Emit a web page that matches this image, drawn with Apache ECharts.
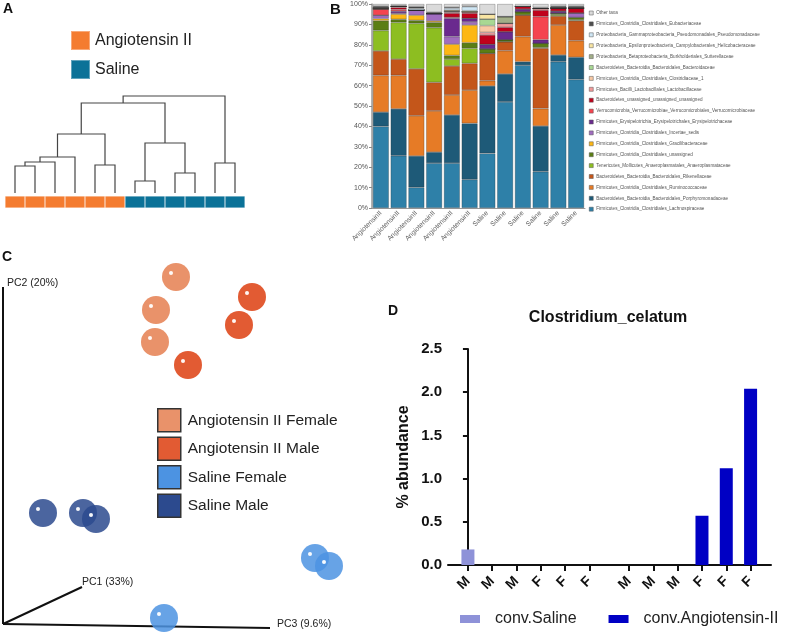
<!DOCTYPE html>
<html><head><meta charset="utf-8">
<script src="https://cdn.jsdelivr.net/npm/echarts@6/dist/echarts.min.js"></script>
<style>html,body{margin:0;padding:0;background:#fff}#c{width:800px;height:633px}</style>
</head><body><div id="c"></div>
<script>
// ===== Panel A: hierarchical clustering =====
const leafGroups = ['Angiotensin II','Angiotensin II','Angiotensin II','Angiotensin II','Angiotensin II','Angiotensin II','Saline','Saline','Saline','Saline','Saline','Saline'];
// [childA, childB, height]; leaves 0-11, merged nodes numbered 12+
const dendroMerges = [[0,1,27],[12,2,31],[13,3,36],[4,5,28],[14,15,59],[6,7,12],[8,9,20],[17,18,50],[16,19,90],[10,11,30],[20,21,97]];
const groupColors = {'Angiotensin II':'#F47C30','Saline':'#0B7298'};

// ===== Panel B: relative abundance (stack order bottom -> top) =====
const taxa = [
 'Firmicutes_Clostridia_Clostridiales_Lachnospiraceae',
 'Bacteroidetes_Bacteroidia_Bacteroidales_Porphyromonadaceae',
 'Firmicutes_Clostridia_Clostridiales_Ruminococcaceae',
 'Bacteroidetes_Bacteroidia_Bacteroidales_Rikenellaceae',
 'Tenericutes_Mollicutes_Anaeroplasmatales_Anaeroplasmataceae',
 'Firmicutes_Clostridia_Clostridiales_unassigned',
 'Firmicutes_Clostridia_Clostridiales_Gracilibacteraceae',
 'Firmicutes_Clostridia_Clostridiales_Incertae_sedis',
 'Firmicutes_Erysipelotrichia_Erysipelotrichales_Erysipelotrichaceae',
 'Verrucomicrobia_Verrucomicrobiae_Verrucomicrobiales_Verrucomicrobiaceae',
 'Bacteroidetes_unassigned_unassigned_unassigned',
 'Firmicutes_Bacilli_Lactobacillales_Lactobacillaceae',
 'Firmicutes_Clostridia_Clostridiales_Clostridiaceae_1',
 'Bacteroidetes_Bacteroidia_Bacteroidales_Bacteroidaceae',
 'Proteobacteria_Betaproteobacteria_Burkholderiales_Sutterellaceae',
 'Proteobacteria_Epsilonproteobacteria_Campylobacterales_Helicobacteraceae',
 'Proteobacteria_Gammaproteobacteria_Pseudomonadales_Pseudomonadaceae',
 'Firmicutes_Clostridia_Clostridiales_Eubacteriaceae',
 'Other taxa'
];
const taxaColors = ['#2E80A8','#1E5A78','#E67B26','#C4561A','#8DBE21','#5B7E14','#FDB714','#A06CBF','#6A2A8E','#F5444F','#C0021C','#F29A9A','#F7C9A5','#A8D893','#A2AE88','#F8E5A3','#CFE6F4','#4D4D4D','#DADADA'];
const sampleLabels = ['AngiotensinII','AngiotensinII','AngiotensinII','AngiotensinII','AngiotensinII','AngiotensinII','Saline','Saline','Saline','Saline','Saline','Saline'];
const angII_1 = [40,7,18,12,10,4.8,1,1.7,0,3,0,0,0.5,0,0,0,0,1,1];
const angII_2 = [25.6,23,16.4,8,18,1.5,2.5,0.5,1,0.8,1,0.5,0,0,0,0,0,0.4,0.8];
const angII_3 = [10.1,15.4,19.7,23,22.3,1.5,2.5,2.5,0,0,0,0,0,0,0,0,0.8,1,1.2];
const angII_4 = [22,5.4,20.2,14,26.8,2.6,0.7,3.6,0,0,0,0,0,0,0,0,0,0.7,4];
const angII_5 = [22,23.6,9.8,14.2,3.4,1.8,5.5,3.7,9,0.5,2,0.5,0.5,0,0,0.5,1,0.5,1.5];
const angII_6 = [14,27.5,16.3,13.1,7.4,2.7,8.7,1.5,1.8,0,2.5,0.7,0,0,0,0.5,2,0.3,1];
const saline_1 = [26.8,33,2.6,13.4,0,2.2,0,0,2.2,0,4.6,1.3,3.3,3.2,0,2.4,0,0,5];
const saline_2 = [52,13.7,11.4,4.4,0,1,0,0,3.9,0,2.2,1.9,0,0,3.3,0,0,0,6.2];
const saline_3 = [70,1.7,12.3,10.6,0,1.6,0,0,1.3,0,1.3,0,0,0,0,0,0,0,1.2];
const saline_4 = [17.8,22.4,8.5,29.6,0.5,1.9,0,0,1.8,11.3,3.2,0.8,0,0,0,0,0,0.5,1.7];
const saline_5 = [71.7,3.3,14.7,4.4,0.6,0.8,0,0,1,0,1.5,0,0,0,0,0,0,1,1];
const saline_6 = [63,10.9,8.1,9.8,0.4,1.2,0,2.2,0,0,2.4,0,0,0,0,0,0,1,1];
const samples = [angII_1,angII_2,angII_3,angII_4,angII_5,angII_6,saline_1,saline_2,saline_3,saline_4,saline_5,saline_6];
const pctTicks = [0,10,20,30,40,50,60,70,80,90,100];

// ===== Panel C: PCoA (projected plot coordinates) =====
const pcoaGroups = ['Angiotensin II Female','Angiotensin II Male','Saline Female','Saline Male'];
const pcoaColors = ['#E9926A','#E25B33','#4C93E2','#2C4A8E'];
const angFemalePts = [[173,353],[153,320],[152,288]];
const angMalePts   = [[249,333],[236,305],[185,265]];
const salFemalePts = [[312,72],[326,64],[161,12]];
const salMalePts   = [[40,117],[80,117],[93,111]];
const pcAxisPC2 = [[0,6],[0,343]];
const pcAxisPC1 = [[0,6],[79,43]];
const pcAxisPC3 = [[0,6],[267,2]];

// ===== Panel D: Clostridium_celatum =====
const sexLabels = ['M','M','M','F','F','F','M','M','M','F','F','F'];
const convSaline = [0.18,0,0,0,0,0];
const convAngII  = [0,0,0,0.57,1.12,2.04];
const abundTicks = [0,0.5,1.0,1.5,2.0,2.5];

// ---------- build ----------
const FONT = '"Liberation Sans", Arial, sans-serif';
const nodeX = leafGroups.map((_, i) => i), nodeH = leafGroups.map(() => 0);
const dendroLines = [];
dendroMerges.forEach(([a, b, h]) => {
  dendroLines.push({coords: [[nodeX[a], nodeH[a]], [nodeX[a], h], [nodeX[b], h], [nodeX[b], nodeH[b]]]});
  nodeX.push((nodeX[a] + nodeX[b]) / 2); nodeH.push(h);
});
const groupNames = ['Angiotensin II','Saline'];
const colorBarSeries = groupNames.map(g => ({
  name: g, type: 'bar', xAxisIndex: 1, yAxisIndex: 1, stack: 'cb', barWidth: '100%',
  itemStyle: {color: groupColors[g], borderColor: 'rgba(255,255,255,0.35)', borderWidth: 0.6},
  data: leafGroups.map(l => l === g ? 1 : '-')
}));

const taxaSeries = taxa.map((t, k) => ({
  name: t, type: 'bar', stack: 'tax', xAxisIndex: 2, yAxisIndex: 2, barWidth: 16,
  itemStyle: {color: taxaColors[k], borderColor: 'rgba(40,40,40,0.45)', borderWidth: 0.6},
  data: samples.map(s => s[k])
}));

const pcPts = [angFemalePts, angMalePts, salFemalePts, salMalePts];
const pcSeries = pcoaGroups.map((g, i) => ({
  name: g, type: 'scatter', xAxisIndex: 3, yAxisIndex: 3, symbolSize: 28, z: 3,
  itemStyle: {color: pcoaColors[i], opacity: i >= 2 ? 0.85 : 1}, data: pcPts[i]
}));
const highlight = {type: 'scatter', xAxisIndex: 3, yAxisIndex: 3, symbolSize: 4, symbolOffset: [-5, -4], z: 4,
  itemStyle: {color: '#fff', opacity: 0.95}, data: [].concat(...pcPts)};
const pcAxes = {type: 'lines', coordinateSystem: 'cartesian2d', xAxisIndex: 3, yAxisIndex: 3, polyline: true, z: 2,
  lineStyle: {color: '#111', width: 2, opacity: 1},
  data: [pcAxisPC2, pcAxisPC1, pcAxisPC3].map(c => ({coords: c}))};

const barPos = sexLabels.map((_, i) => i + (i >= 6 ? 0.63 : 0));
const dSeries = [
  {name: 'conv.Saline', type: 'bar', stack: 'd', xAxisIndex: 4, yAxisIndex: 4, barWidth: 13, itemStyle: {color: '#8E92D8'},
   data: convSaline.map((v, i) => [barPos[i], v])},
  {name: 'conv.Angiotensin-II', type: 'bar', stack: 'd', xAxisIndex: 4, yAxisIndex: 4, barWidth: 13, itemStyle: {color: '#0000C4'},
   data: convAngII.map((v, i) => [barPos[i + 6], v])}
];

const hidden = {show: false};
const option = {
  animation: false, backgroundColor: '#fff',
  textStyle: {fontFamily: FONT},
  grid: [
    {left: 5, top: 90, width: 240, height: 103},
    {left: 5, top: 196, width: 240, height: 12},
    {left: 372, top: 4, width: 213, height: 204},
    {left: 3, top: 250, width: 340, height: 380},
    {left: 448, top: 349, width: 323, height: 216}
  ],
  xAxis: [
    {gridIndex: 0, type: 'value', min: -0.5, max: 11.5, axisLine: hidden, axisTick: hidden, axisLabel: hidden, splitLine: hidden},
    {gridIndex: 1, type: 'category', data: leafGroups.map((_, i) => String(i)), axisLine: hidden, axisTick: hidden, axisLabel: hidden},
    {gridIndex: 2, type: 'category', data: sampleLabels,
      axisLine: {lineStyle: {color: '#999', width: 1}},
      axisTick: {alignWithLabel: true, length: 3, lineStyle: {color: '#888'}},
      axisLabel: {rotate: 45, fontSize: 6.8, color: '#666', margin: 4, interval: 0}},
    {gridIndex: 3, type: 'value', min: 0, max: 340, axisLine: hidden, axisTick: hidden, axisLabel: hidden, splitLine: hidden},
    {gridIndex: 4, type: 'value', min: -0.82, max: 12.47,
      axisLine: {lineStyle: {color: '#111', width: 2}},
      axisTick: {customValues: barPos, length: 6, lineStyle: {color: '#111', width: 2}},
      axisLabel: {customValues: barPos, rotate: 45, fontSize: 14, fontWeight: 'bold', color: '#111', margin: 14,
        formatter: v => { const i = barPos.findIndex(p => Math.abs(p - v) < 1e-6); return i >= 0 ? sexLabels[i] : ''; }},
      splitLine: hidden}
  ],
  yAxis: [
    {gridIndex: 0, type: 'value', min: 0, max: 103, axisLine: hidden, axisTick: hidden, axisLabel: hidden, splitLine: hidden},
    {gridIndex: 1, type: 'value', min: 0, max: 1, axisLine: hidden, axisTick: hidden, axisLabel: hidden, splitLine: hidden},
    {gridIndex: 2, type: 'value', min: 0, max: 100, interval: 10,
      axisLine: {show: true, lineStyle: {color: '#999', width: 1.5}},
      axisTick: {show: true, length: 3, lineStyle: {color: '#888'}},
      axisLabel: {fontSize: 7, color: '#555', margin: 4, formatter: v => pctTicks.includes(v) ? v + '%' : ''},
      splitLine: hidden},
    {gridIndex: 3, type: 'value', min: 0, max: 380, axisLine: hidden, axisTick: hidden, axisLabel: hidden, splitLine: hidden},
    {gridIndex: 4, type: 'value', min: 0, max: 2.5, interval: 0.5,
      name: '% abundance', nameLocation: 'middle', nameGap: 36,
      nameTextStyle: {fontSize: 16, fontWeight: 'bold', color: '#111'},
      axisLine: {show: true, lineStyle: {color: '#111', width: 2}},
      axisTick: {show: true, length: 5, lineStyle: {color: '#111', width: 2}},
      axisLabel: {fontSize: 15, fontWeight: 'bold', color: '#111', margin: 6, formatter: v => abundTicks.includes(v) ? v.toFixed(1) : ''},
      splitLine: hidden}
  ],
  legend: [
    {data: groupNames, orient: 'vertical', left: 65, top: 25, itemWidth: 19, itemHeight: 19, itemGap: 8, icon: 'rect',
      selectedMode: false, textStyle: {fontSize: 16, color: '#222', fontFamily: FONT}},
    {data: taxa.slice().reverse(), orient: 'vertical', left: 584, top: 5, itemWidth: 4, itemHeight: 4, itemGap: 4.9, icon: 'rect',
      selectedMode: false, itemStyle: {borderColor: '#555', borderWidth: 0.5},
      textStyle: {fontSize: 4.6, lineHeight: 6, color: '#555', fontFamily: FONT, padding: [0,0,0,-2]}},
    {data: pcoaGroups.map(g => ({name: g, itemStyle: {opacity: 1}})), orient: 'vertical', left: 152, top: 403,
      itemWidth: 23, itemHeight: 23, itemGap: 4, icon: 'rect', selectedMode: false,
      itemStyle: {borderColor: '#333', borderWidth: 1.5},
      textStyle: {fontSize: 15.5, color: '#222', fontFamily: FONT, padding: [0,0,0,2]}},
    {data: ['conv.Saline', 'conv.Angiotensin-II'], orient: 'horizontal', left: 455, top: 606, itemWidth: 20, itemHeight: 8,
      itemGap: 32, icon: 'rect', selectedMode: false,
      textStyle: {fontSize: 16, color: '#222', fontFamily: FONT, padding: [0,0,0,10]}}
  ],
  graphic: [
    {type: 'text', left: 3, top: 2, style: {text: 'A', font: 'bold 14px ' + FONT, fill: '#111'}},
    {type: 'text', left: 330, top: 2, style: {text: 'B', font: 'bold 15px ' + FONT, fill: '#111'}},
    {type: 'text', left: 2, top: 250, style: {text: 'C', font: 'bold 14px ' + FONT, fill: '#111'}},
    {type: 'text', left: 388, top: 304, style: {text: 'D', font: 'bold 14px ' + FONT, fill: '#111'}},
    {type: 'text', x: 608, y: 318, style: {text: 'Clostridium_celatum', font: 'bold 16px ' + FONT, fill: '#111', textAlign: 'center', textVerticalAlign: 'middle'}},
    {type: 'text', x: 7, y: 283, style: {text: 'PC2 (20%)', font: '10.5px ' + FONT, fill: '#222', textVerticalAlign: 'middle'}},
    {type: 'text', x: 82, y: 582, style: {text: 'PC1 (33%)', font: '10.5px ' + FONT, fill: '#222', textVerticalAlign: 'middle'}},
    {type: 'text', x: 277, y: 624, style: {text: 'PC3 (9.6%)', font: '10.5px ' + FONT, fill: '#222', textVerticalAlign: 'middle'}}
  ],
  series: [
    {type: 'lines', coordinateSystem: 'cartesian2d', xAxisIndex: 0, yAxisIndex: 0, polyline: true,
      lineStyle: {color: '#444', width: 1.2, opacity: 1}, data: dendroLines},
    ...colorBarSeries,
    ...taxaSeries,
    pcAxes, ...pcSeries, highlight,
    ...dSeries
  ]
};
const chart = echarts.init(document.getElementById('c'), null, {renderer: 'canvas'});
chart.setOption(option);
</script></body></html>
